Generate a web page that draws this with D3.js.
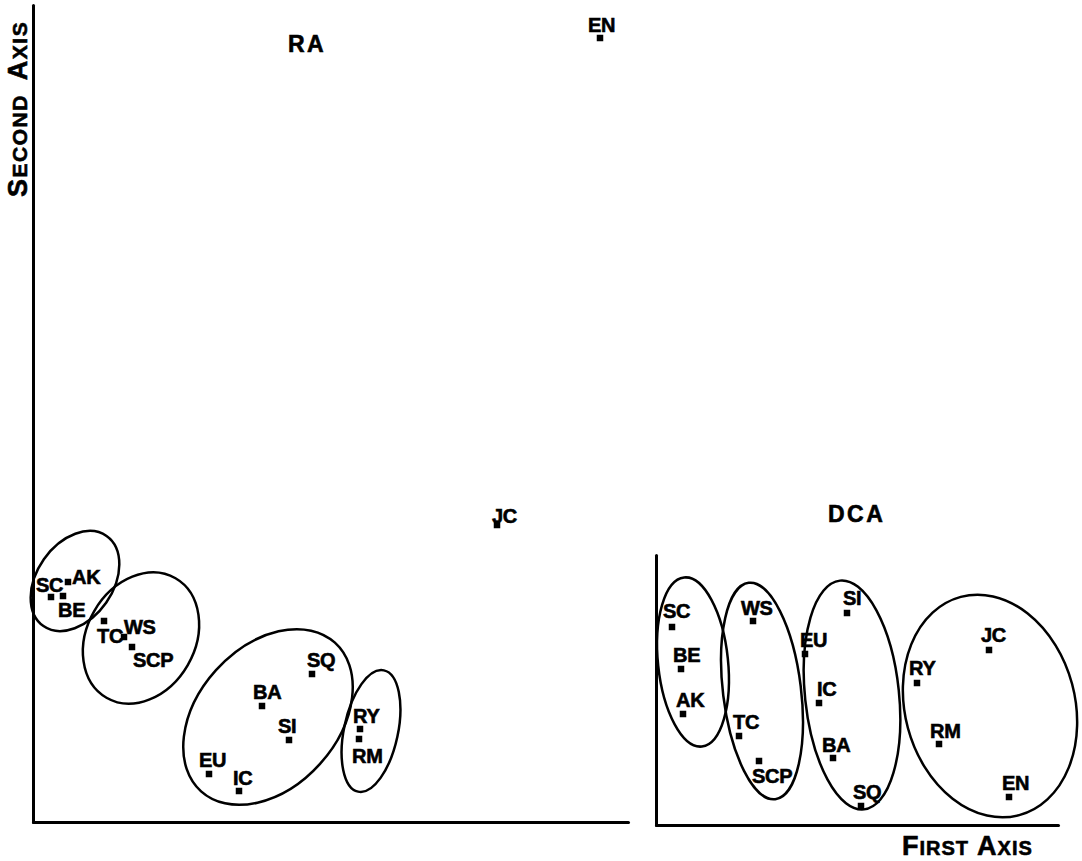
<!DOCTYPE html>
<html>
<head>
<meta charset="utf-8">
<script src="https://cdn.jsdelivr.net/npm/d3@7/dist/d3.min.js"></script>
<style>
  html, body { margin: 0; padding: 0; background: #fff; }
  svg { display: block; }
  text { font-family: "Liberation Sans", Arial, Helvetica, sans-serif; font-weight: bold; fill: #000; stroke: #000; stroke-width: 0.6px; }
</style>
</head>
<body>
<script>
// ---------- data ----------
const species = ["SC","BE","AK","TC","WS","SCP","EU","IC","BA","SI","SQ","RY","RM","JC","EN"];

// RA ordination scores (arbitrary units)
const raAxis1 = [18, 30, 35, 71, 91, 99, 176, 206, 229, 256, 279, 327, 326, 464, 567];
const raAxis2 = [225, 226, 240, 201, 185, 175, 48, 31, 116, 82, 148, 93, 83, 297, 784];

// DCA ordination scores
const dcaAxis1 = [16, 25, 27, 83, 97, 103, 149, 163, 177, 191, 205, 261, 283, 333, 353];
const dcaAxis2 = [198, 156, 111, 89, 204, 64, 171, 122, 67, 212, 19, 142, 81, 175, 28];

// group envelopes: centre (axis units), semi-axes (axis units), tilt (deg)
const raGroupCx    = [42, 108, 235, 338];
const raGroupCy    = [241, 184, 105, 91];
const raGroupA     = [55, 69, 100, 62];
const raGroupB     = [38, 54, 70, 27];
const raGroupTilt  = [-55, -60, -48, -78];

const dcaGroupCx   = [37, 106, 196, 334];
const dcaGroupCy   = [163, 134, 130, 119];
const dcaGroupA    = [85, 109, 115, 113];
const dcaGroupB    = [35, 39, 47, 85];
const dcaGroupTilt = [84, 83, 84, 75];

const raDomainX = [0, 595], raDomainY = [0, 817];
const dcaDomainX = [0, 402], dcaDomainY = [0, 270];

// ---------- layout ----------
const W = 1082, H = 861;
const raLabelOffset  = [[-15,-5],[-5,21],[4,2],[-7,22],[0,-3],[1,20],[-10,-7],[-6,-6],[-9,-7],[-11,-7],[-5,-7],[-7,-6],[-7,24],[-5,-2],[-12,-6]];
const dcaLabelOffset = [[-9,-9],[-8,-7],[-7,-7],[-6,-7],[-12,-6],[-7,22],[-5,-7],[-2,-7],[-11,-6],[-4,-8],[-8,-7],[-8,-8],[-9,-6],[-8,-8],[-7,-7]];

const svg = d3.select("body").append("svg").attr("width", W).attr("height", H);

function panel(opts) {
  const x = d3.scaleLinear().domain(opts.domX).range(opts.rangeX);
  const y = d3.scaleLinear().domain(opts.domY).range(opts.rangeY);
  const g = svg.append("g");

  // axes (domain lines only)
  const ax = g.append("g").attr("transform", `translate(0,${opts.rangeY[0]})`)
    .call(d3.axisBottom(x).ticks(0).tickSizeOuter(0));
  const ay = g.append("g").attr("transform", `translate(${opts.rangeX[0]},0)`)
    .call(d3.axisLeft(y).ticks(0).tickSizeOuter(0));
  [ax, ay].forEach(a => {
    a.selectAll("path.domain").attr("stroke", "#000").attr("stroke-width", 3).attr("stroke-linecap", "round");
    a.selectAll("text").remove();
  });

  // ellipses
  const ell = opts.gcx.map((cx, i) => ({cx, cy: opts.gcy[i], a: opts.ga[i], b: opts.gb[i], t: opts.gt[i]}));
  g.selectAll("ellipse").data(ell).enter().append("ellipse")
    .attr("cx", d => x(d.cx)).attr("cy", d => y(d.cy))
    .attr("rx", d => x(d.a) - x(0)).attr("ry", d => y(0) - y(d.b))
    .attr("transform", d => `rotate(${d.t},${x(d.cx)},${y(d.cy)})`)
    .attr("fill", "none").attr("stroke", "#000").attr("stroke-width", 2.5);

  const pts = species.map((s, i) => ({s, v1: opts.v1[i], v2: opts.v2[i], off: opts.off[i]}));
  const ms = 6.5;
  g.selectAll("rect.pt").data(pts).enter().append("rect").attr("class", "pt")
    .attr("x", d => x(d.v1) - ms/2).attr("y", d => y(d.v2) - ms/2)
    .attr("width", ms).attr("height", ms).attr("fill", "#000");
  g.selectAll("text.lab").data(pts).enter().append("text").attr("class", "lab")
    .attr("x", d => x(d.v1) + d.off[0]).attr("y", d => y(d.v2) + d.off[1])
    .attr("font-size", 20).attr("letter-spacing", -0.3)
    .text(d => d.s);

  g.append("text").attr("x", opts.title[1]).attr("y", opts.title[2])
    .attr("font-size", 23).attr("letter-spacing", 2.5).text(opts.title[0]);
}

panel({domX: raDomainX, domY: raDomainY, rangeX: [33, 628], rangeY: [822, 5],
       v1: raAxis1, v2: raAxis2, off: raLabelOffset,
       gcx: raGroupCx, gcy: raGroupCy, ga: raGroupA, gb: raGroupB, gt: raGroupTilt,
       title: ["RA", 288, 52]});

panel({domX: dcaDomainX, domY: dcaDomainY, rangeX: [656, 1058], rangeY: [825, 555],
       v1: dcaAxis1, v2: dcaAxis2, off: dcaLabelOffset,
       gcx: dcaGroupCx, gcy: dcaGroupCy, ga: dcaGroupA, gb: dcaGroupB, gt: dcaGroupTilt,
       title: ["DCA", 828, 522]});

// axis titles in small caps
const yt = svg.append("text").attr("transform", "translate(27,197) rotate(-90)").attr("letter-spacing", 1.5);
yt.append("tspan").attr("font-size", 27).text("S");
yt.append("tspan").attr("font-size", 21).text("ECOND");
yt.append("tspan").attr("font-size", 27).attr("dx", 14).text("A");
yt.append("tspan").attr("font-size", 21).text("XIS");

const xt = svg.append("text").attr("x", 902).attr("y", 855).attr("letter-spacing", 1);
xt.append("tspan").attr("font-size", 27).text("F");
xt.append("tspan").attr("font-size", 20).text("IRST");
xt.append("tspan").attr("font-size", 27).attr("dx", 8).text("A");
xt.append("tspan").attr("font-size", 20).text("XIS");
</script>
</body>
</html>
